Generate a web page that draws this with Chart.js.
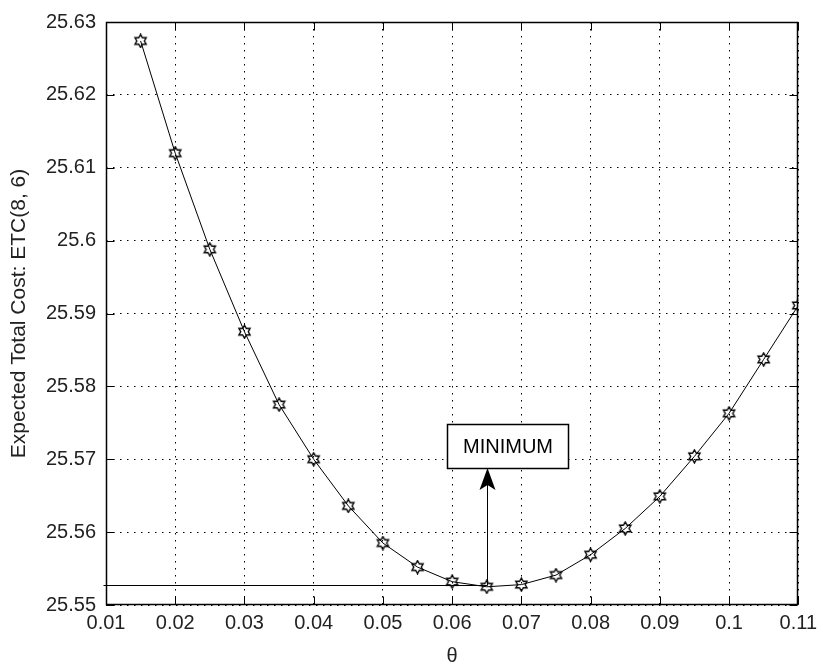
<!DOCTYPE html>
<html>
<head>
<meta charset="utf-8">
<script src="https://cdn.jsdelivr.net/npm/chart.js@4"></script>
<style>
  html, body { margin: 0; padding: 0; background: #fff; }
  #chart { display: block; }
</style>
</head>
<body>
<canvas id="chart" width="823" height="666"></canvas>
<script>
// theta vs expected total cost
const thetas = [0.015, 0.02, 0.025, 0.03, 0.035, 0.04, 0.045, 0.05, 0.055, 0.06,
                0.065, 0.07, 0.075, 0.08, 0.085, 0.09, 0.095, 0.10, 0.105, 0.11];
const etc = [25.6274, 25.6120, 25.5988, 25.5875, 25.5775, 25.5700, 25.5636, 25.5585, 25.5552, 25.5532,
             25.5525, 25.5528, 25.5541, 25.5569, 25.5605, 25.5649, 25.5704, 25.5763, 25.5837, 25.5911];

const xTicks = [0.01, 0.02, 0.03, 0.04, 0.05, 0.06, 0.07, 0.08, 0.09, 0.10, 0.11];
const xTickLabels = ['0.01', '0.02', '0.03', '0.04', '0.05', '0.06', '0.07', '0.08', '0.09', '0.1', '0.11'];
const yTicks = [25.55, 25.56, 25.57, 25.58, 25.59, 25.60, 25.61, 25.62, 25.63];
const yTickLabels = ['25.55', '25.56', '25.57', '25.58', '25.59', '25.6', '25.61', '25.62', '25.63'];

// minimum marker annotation (data units)
const minTheta = 0.065;
const minCost = 25.5527;
const minLabel = { x1: 0.0593, x2: 0.0767, y1: 25.5688, y2: 25.5748, text: 'MINIMUM' };

const FONT = "'Liberation Sans', Arial, sans-serif";

// hexagram marker like matlab 'h'
function hexagram(size) {
    const c = document.createElement('canvas');
    c.width = size; c.height = size;
    const g = c.getContext('2d');
    const cx = size / 2, cy = size / 2;
    const R = size / 2 - 1, r = R / Math.sqrt(3);
    g.beginPath();
    for (let i = 0; i < 12; i++) {
        const ang = -Math.PI / 2 + i * Math.PI / 6;
        const rad = i % 2 === 0 ? R : r;
        const px = cx + rad * Math.cos(ang), py = cy + rad * Math.sin(ang);
        if (i === 0) g.moveTo(px, py); else g.lineTo(px, py);
    }
    g.closePath();
    g.strokeStyle = '#000';
    g.lineWidth = 1.4;
    g.stroke();
    return c;
}

const frame = {
    id: 'frame',
    afterDatasetsDraw(chart) {
        const { ctx, chartArea: a, scales: { x, y } } = chart;
        const L = Math.round(a.left) + 0.5, R = Math.round(a.right) - 0.5;
        const T = Math.round(a.top) + 0.5, B = Math.round(a.bottom) - 0.5;
        ctx.save();
        ctx.strokeStyle = '#000';
        ctx.lineWidth = 1;

        // inward ticks on all four sides
        ctx.beginPath();
        xTicks.forEach(v => {
            const px = Math.round(x.getPixelForValue(v)) + 0.5;
            ctx.moveTo(px, B); ctx.lineTo(px, B - 8);
            ctx.moveTo(px, T); ctx.lineTo(px, T + 8);
        });
        yTicks.forEach(v => {
            const py = Math.round(y.getPixelForValue(v)) + 0.5;
            ctx.moveTo(L, py); ctx.lineTo(L + 8, py);
            ctx.moveTo(R, py); ctx.lineTo(R - 8, py);
        });
        ctx.stroke();
        ctx.lineWidth = 1.5;
        ctx.strokeRect(L, T, R - L, B - T);
        ctx.lineWidth = 1;

        // minimum level line + arrow
        const mx = Math.round(x.getPixelForValue(minTheta)) + 0.5;
        const my = Math.round(y.getPixelForValue(minCost)) + 0.5;
        const tip = y.getPixelForValue(minLabel.y1);
        ctx.beginPath();
        ctx.moveTo(L - 3, my); ctx.lineTo(mx, my);
        ctx.moveTo(mx, my); ctx.lineTo(mx, tip + 16);
        ctx.stroke();
        ctx.fillStyle = '#000';
        ctx.beginPath();
        ctx.moveTo(mx, tip);
        ctx.lineTo(mx - 8, tip + 22);
        ctx.lineTo(mx, tip + 17);
        ctx.lineTo(mx + 8, tip + 22);
        ctx.closePath();
        ctx.fill();

        // label box
        const bx1 = Math.round(x.getPixelForValue(minLabel.x1)) + 0.5;
        const bx2 = Math.round(x.getPixelForValue(minLabel.x2)) + 0.5;
        const by1 = Math.round(y.getPixelForValue(minLabel.y2)) + 0.5;
        const by2 = Math.round(y.getPixelForValue(minLabel.y1)) + 0.5;
        ctx.fillStyle = '#fff';
        ctx.fillRect(bx1, by1, bx2 - bx1, by2 - by1);
        ctx.lineWidth = 1.5;
        ctx.strokeRect(bx1, by1, bx2 - bx1, by2 - by1);
        ctx.fillStyle = '#000';
        ctx.font = '20px ' + FONT;
        ctx.textAlign = 'center';
        ctx.textBaseline = 'middle';
        ctx.fillText(minLabel.text, (bx1 + bx2) / 2, (by1 + by2) / 2 + 1);
        ctx.restore();
    }
};

new Chart(document.getElementById('chart'), {
    type: 'line',
    data: {
        datasets: [{
            data: thetas.map((t, i) => ({ x: t, y: etc[i] })),
            borderColor: '#000',
            borderWidth: 1,
            tension: 0,
            fill: false,
            pointStyle: hexagram(15),
            pointRadius: 7
        }]
    },
    options: {
        responsive: false,
        animation: false,
        devicePixelRatio: 1,
        layout: { padding: { top: 19, right: 21, left: 0, bottom: 0 } },
        plugins: { legend: { display: false }, tooltip: { enabled: false } },
        scales: {
            x: {
                type: 'linear',
                min: 0.01, max: 0.11,
                afterBuildTicks: s => { s.ticks = xTicks.map(v => ({ value: v })); },
                afterFit: s => { s.height = 61; },
                grid: { color: '#000', lineWidth: 1, drawTicks: false },
                border: { display: false, dash: [1.5, 5.5] },
                ticks: {
                    color: '#222', autoSkip: false, maxRotation: 0, padding: 6,
                    font: { family: FONT, size: 20 },
                    callback: (v, i) => xTickLabels[i]
                },
                title: {
                    display: true, text: 'θ', color: '#222',
                    font: { family: FONT, size: 20 },
                    padding: { top: 0, bottom: -2 }
                }
            },
            y: {
                min: 25.55, max: 25.63,
                afterBuildTicks: s => { s.ticks = yTicks.map(v => ({ value: v })); },
                afterFit: s => { s.width = 106; },
                grid: { color: '#000', lineWidth: 1, drawTicks: false },
                border: { display: false, dash: [1.5, 5.5] },
                ticks: {
                    color: '#222', autoSkip: false, padding: 10,
                    font: { family: FONT, size: 20 },
                    callback: (v, i) => yTickLabels[i]
                },
                title: {
                    display: true, text: 'Expected Total Cost: ETC(8, 6)', color: '#222',
                    font: { family: FONT, size: 21 },
                    padding: { top: 7, bottom: 0 }
                }
            }
        }
    },
    plugins: [frame]
});
</script>
</body>
</html>
